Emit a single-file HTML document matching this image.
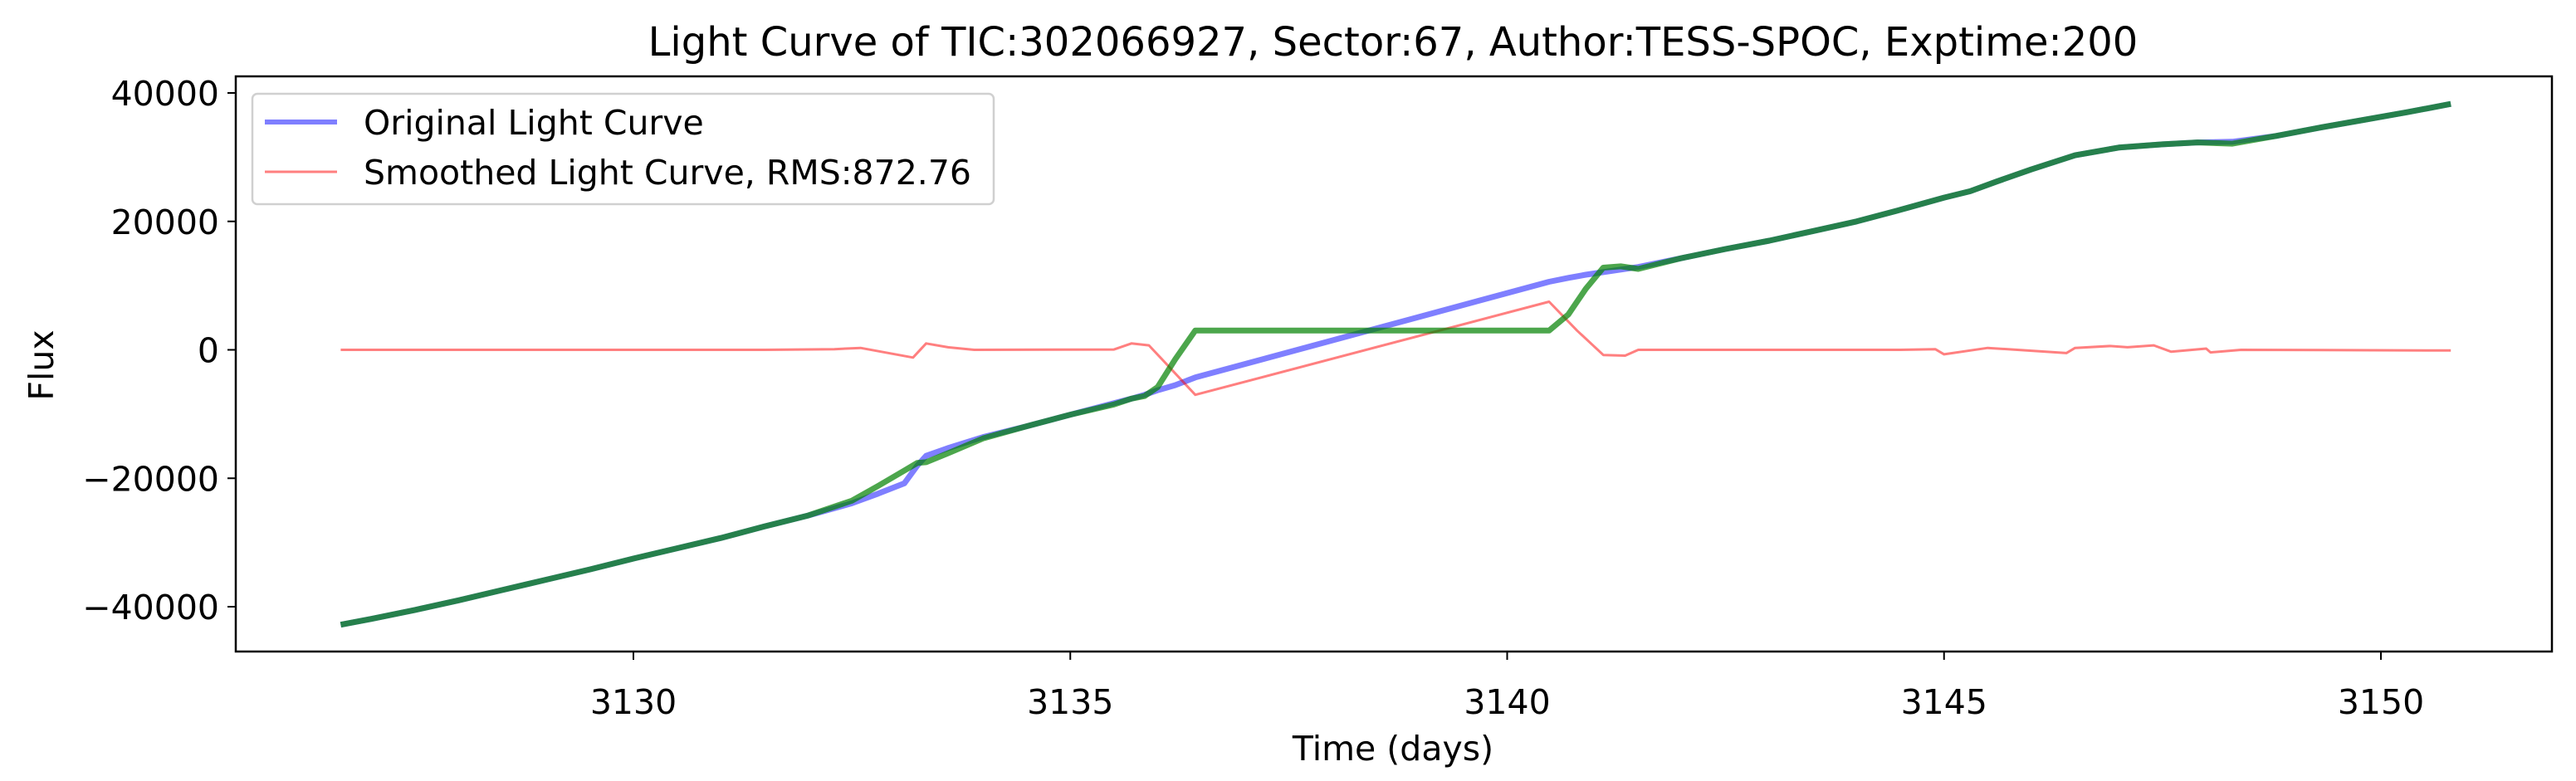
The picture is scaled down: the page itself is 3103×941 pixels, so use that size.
<!DOCTYPE html>
<html><head><meta charset="utf-8"><style>
body{margin:0;background:#fff;}
svg{display:block;font-family:"DejaVu Sans","Liberation Sans",sans-serif;}
</style></head><body>
<svg id="chart" width="3103" height="941" viewBox="0 0 3103 941" xmlns="http://www.w3.org/2000/svg">
<rect x="0" y="0" width="3103" height="941" fill="#fff"/>
<text x="1678" y="67" font-size="48" text-anchor="middle" fill="#000">Light Curve of TIC:302066927, Sector:67, Author:TESS-SPOC, Exptime:200</text>
<g id="marks"></g>
<g id="axes"></g>
<rect x="284" y="92" width="2790" height="693" fill="none" stroke="#000" stroke-width="2.5"/>
<text x="1678" y="916" font-size="41" text-anchor="middle">Time (days)</text>
<text x="0" y="0" font-size="41" text-anchor="middle" transform="translate(64,440) rotate(-90)">Flux</text>
<g>
<rect x="304" y="113" width="893" height="133" rx="6" fill="#fff" fill-opacity="0.8" stroke="#d0d0d0" stroke-width="2.5"/>
<line x1="319" y1="147" x2="406" y2="147" stroke="#0000ff" stroke-opacity="0.5" stroke-width="6"/>
<text x="438" y="162" font-size="41">Original Light Curve</text>
<line x1="319" y1="207" x2="406" y2="207" stroke="#ff0000" stroke-opacity="0.5" stroke-width="3"/>
<text x="438" y="222" font-size="41">Smoothed Light Curve, RMS:872.76</text>
</g>
</svg>
<script>
const times=[3126.65,3127,3127.5,3128,3128.5,3129,3129.5,3130,3130.5,3131,3131.5,3132,3132.5,3132.8,3133.1,3133.25,3133.35,3133.6,3134,3134.5,3135,3135.5,3135.7,3135.85,3136,3136.2,3136.43,3140.48,3140.7,3140.9,3141.1,3141.3,3141.5,3142,3142.5,3143,3143.5,3144,3144.5,3145,3145.3,3145.6,3146,3146.5,3147,3147.5,3147.9,3148.3,3148.8,3149.3,3149.8,3150.3,3150.8];
const original=[-42800,-41900,-40500,-39000,-37400,-35800,-34200,-32500,-30900,-29300,-27500,-25800,-23900,-22400,-20800,-18000,-16500,-15300,-13600,-11900,-10100,-8300,-7600,-7000,-6300,-5500,-4300,10600,11200,11700,12100,12500,12900,14300,15700,17000,18500,20000,21800,23700,24700,26200,28100,30300,31500,32000,32300,32400,33300,34600,35800,37000,38300];
const smoothed=[-42800,-41900,-40500,-39000,-37400,-35800,-34200,-32500,-30900,-29300,-27500,-25800,-23500,-21200,-18800,-17600,-17500,-16100,-13800,-11900,-10100,-8500,-7600,-7200,-5800,-1500,3000,3000,5500,9500,12800,13000,12600,14300,15700,17000,18500,20000,21800,23700,24700,26200,28100,30300,31500,32000,32300,32100,33300,34600,35800,37000,38300];
const residTimes=[3126.65,3128,3130,3131.5,3132.3,3132.6,3133.2,3133.35,3133.6,3133.9,3135.5,3135.7,3135.9,3136.43,3140.48,3140.8,3141.1,3141.35,3141.5,3143,3144.5,3144.9,3145.0,3145.5,3146.4,3146.5,3146.9,3147.1,3147.4,3147.6,3148.0,3148.05,3148.4,3150.8];
const residual=[0,0,0,0,100,300,-1200,1000,400,0,50,1000,700,-7000,7500,3000,-800,-900,0,0,0,100,-700,300,-500,300,600,400,700,-300,200,-400,0,-100];
const yTicks=[-40000,-20000,0,20000,40000];
const xTicks=[3130,3135,3140,3145,3150];

const X=t=>763+(t-3130)*105.25;
const Y=v=>421.5-v*0.0077375;
const NS='http://www.w3.org/2000/svg';
const marks=document.getElementById('marks');
const axes=document.getElementById('axes');
function pts(ts,vs){return ts.map((t,i)=>X(t).toFixed(1)+','+Y(vs[i]).toFixed(1)).join(' ');}
const l1=document.createElementNS(NS,'polyline');
l1.setAttribute('points',pts(times,original));
l1.setAttribute('fill','none');l1.setAttribute('stroke','#0000ff');l1.setAttribute('stroke-opacity','0.5');l1.setAttribute('stroke-width','7');l1.setAttribute('stroke-linejoin','round');


marks.appendChild(l1);
const l2=document.createElementNS(NS,'polyline');
l2.setAttribute('points',pts(residTimes,residual));
l2.setAttribute('fill','none');l2.setAttribute('stroke','#ff0000');l2.setAttribute('stroke-opacity','0.5');l2.setAttribute('stroke-width','3');l2.setAttribute('stroke-linejoin','round');


marks.appendChild(l2);
const l3=document.createElementNS(NS,'polyline');
l3.setAttribute('points',pts(times,smoothed));
l3.setAttribute('fill','none');l3.setAttribute('stroke','#008000');l3.setAttribute('stroke-opacity','0.7');l3.setAttribute('stroke-width','7');l3.setAttribute('stroke-linejoin','round');


marks.appendChild(l3);
yTicks.forEach(v=>{
  const y=Y(v);
  const tk=document.createElementNS(NS,'line');
  tk.setAttribute('x1',274);tk.setAttribute('x2',284);tk.setAttribute('y1',y);tk.setAttribute('y2',y);tk.setAttribute('stroke','#000');tk.setAttribute('stroke-width','2');
  
  
  axes.appendChild(tk);
  const tx=document.createElementNS(NS,'text');
  tx.setAttribute('x',264);tx.setAttribute('y',y+15);tx.setAttribute('font-size','41');tx.setAttribute('text-anchor','end');
  tx.textContent=(v<0?'\u2212'+(-v):String(v));
  
  
  axes.appendChild(tx);
});
xTicks.forEach(t=>{
  const x=X(t);
  const tk=document.createElementNS(NS,'line');
  tk.setAttribute('x1',x);tk.setAttribute('x2',x);tk.setAttribute('y1',785);tk.setAttribute('y2',795);tk.setAttribute('stroke','#000');tk.setAttribute('stroke-width','2');
  
  
  axes.appendChild(tk);
  const tx=document.createElementNS(NS,'text');
  tx.setAttribute('x',x);tx.setAttribute('y',860);tx.setAttribute('font-size','41');tx.setAttribute('text-anchor','middle');
  tx.textContent=String(t);
  
  
  axes.appendChild(tx);
});
</script>
</body></html>
